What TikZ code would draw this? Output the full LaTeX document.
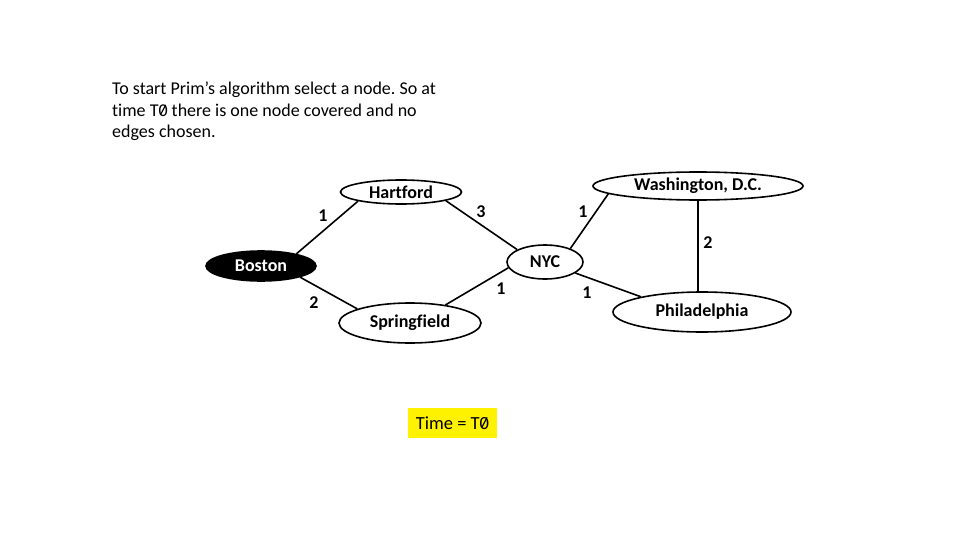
\documentclass[tikz,border=0pt]{standalone}
\usepackage{graphicx}
\usepackage{fontspec}
\setmainfont{Carlito}[Ligatures=NoCommon]
\usetikzlibrary{shapes.geometric}
\newcommand{\szero}{\ooalign{\hfil0\hfil\cr\hfil\raisebox{0.08em}{\rotatebox{62}{\rule{0.62em}{0.065em}}}\hfil\cr}}
\begin{document}
\begin{tikzpicture}[x=1pt,y=-1pt,
  city/.style={ellipse, draw=black, line width=1.6pt, fill=white, inner sep=0pt,
    font=\fontsize{18}{21}\selectfont\bfseries},
  edge/.style={line width=1.6pt, draw=black},
  wlabel/.style={font=\fontsize{18}{21}\selectfont\bfseries, inner sep=0pt}]
\useasboundingbox (0,0) rectangle (960,540);
\fill[white] (0,0) rectangle (960,540);
\frenchspacing

\node[anchor=base west, align=left, inner sep=0pt,
  font=\fontsize{18}{21.5}\selectfont] (intro) at (112,138)
  {To start Prim’s algorithm select a node. So at\\ time T\szero{} there is one node covered and no\\ edges chosen.};

\node[city, minimum width=121, minimum height=24] (hart) at (401,192) {Hartford};
\node[city, minimum width=210, minimum height=28] (wash) at (698,186) {Washington, D.C.};
\node[city, minimum width=110, minimum height=30, fill=black, text=white] (bos) at (261,266) {Boston};
\node[city, minimum width=76, minimum height=34] (nyc) at (545,262) {NYC};
\node[city, minimum width=142, minimum height=40] (spr) at (410,323) {Springfield};
\node[city, minimum width=178, minimum height=40] (phi) at (702,312) {Philadelphia};

\draw[edge] (bos.19.7) -- (hart.192.8);
\draw[edge] (hart.-11.6) -- (nyc.156.8);
\draw[edge] (bos.-16.7) -- (spr.165.5);
\draw[edge] (spr.27.2) -- (nyc.189.7);
\draw[edge] (nyc.28.3) -- (wash.185.5);
\draw[edge] (nyc.-20.3) -- (phi.166.4);
\draw[edge] (wash.south) -- (phi.north -| wash.south);

\node[wlabel] (l1) at (323,216) {1};
\node[wlabel] (l2) at (481,212) {3};
\node[wlabel] (l3) at (314,303) {2};
\node[wlabel] (l4) at (501,289) {1};
\node[wlabel] (l5) at (583,212) {1};
\node[wlabel] (l6) at (587,293) {1};
\node[wlabel] (l7) at (708,243) {2};

\node[fill=yellow, minimum width=89, minimum height=30, inner sep=0pt,
  font=\fontsize{18.5}{20}\selectfont] (time) at (452.5,423) {Time = T\szero};
\end{tikzpicture}
\end{document}
